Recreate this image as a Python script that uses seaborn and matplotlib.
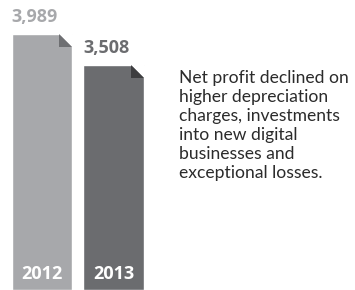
import matplotlib
matplotlib.use("Agg")
import matplotlib.pyplot as plt
from matplotlib.patches import Polygon
import seaborn as sns
import pandas as pd

# datos del grafico
years = ["2012", "2013"]
net_profit = [3989, 3508]
value_labels = ["3,989", "3,508"]
bar_colors = ["#a7a8ab", "#6b6c6f"]
fold_colors = ["#6e6f72", "#3e3e40"]
note = ("Net profit declined on\nhigher depreciation\ncharges, investments\n"
        "into new digital\nbusinesses and\nexceptional losses.")

sns.set_theme(style="white")
plt.rcParams["font.family"] = ["Open Sans", "DejaVu Sans"]

df = pd.DataFrame({"year": years, "profit": net_profit})

fig = plt.figure(figsize=(3.55, 2.9), dpi=100)
ax = fig.add_axes([0, 0, 160 / 355, 1])

sns.barplot(data=df, x="year", y="profit", hue="year", palette=bar_colors,
            legend=False, width=0.845, saturation=1, ax=ax)

ax.set_xlim(-0.587, 1.65)
ymax = 290 / 256 * net_profit[0]
ax.set_ylim(0, ymax)
ax.axis("off")

# esquina doblada de cada barra
corner_px = 13
dy = corner_px / 290 * ymax
dx = corner_px / 71.5
for patch, fold in zip(ax.patches, fold_colors):
    x1 = patch.get_x() + patch.get_width()
    x0 = x1 - dx
    top = patch.get_height()
    ax.add_patch(Polygon([(x0, top), (x1, top), (x1, top - dy)],
                         closed=True, facecolor="white", edgecolor="none", zorder=3))
    ax.add_patch(Polygon([(x0, top), (x0, top - dy), (x1, top - dy)],
                         closed=True, facecolor=fold, edgecolor="none", zorder=3))

# etiquetas de valor y de anio
for patch, lbl, yr, col in zip(ax.patches, value_labels, years, bar_colors):
    left = patch.get_x()
    top = patch.get_height()
    ax.annotate(lbl, (left, top), xytext=(0, 6), textcoords="offset points",
                ha="left", va="bottom", fontsize=13, fontweight="bold", color=col)
    ax.annotate(yr, (patch.get_x() + patch.get_width() / 2, 0), xytext=(0, 5),
                textcoords="offset points", ha="center", va="bottom",
                fontsize=13, fontweight="bold", color="white")

fig.text(179 / 355, 1 - 70 / 290, note, ha="left", va="top", fontsize=12.6,
         family=["Lato", "DejaVu Sans"], color="#2b2b2b", linespacing=1.23)

fig.savefig("out.png", dpi=100)
